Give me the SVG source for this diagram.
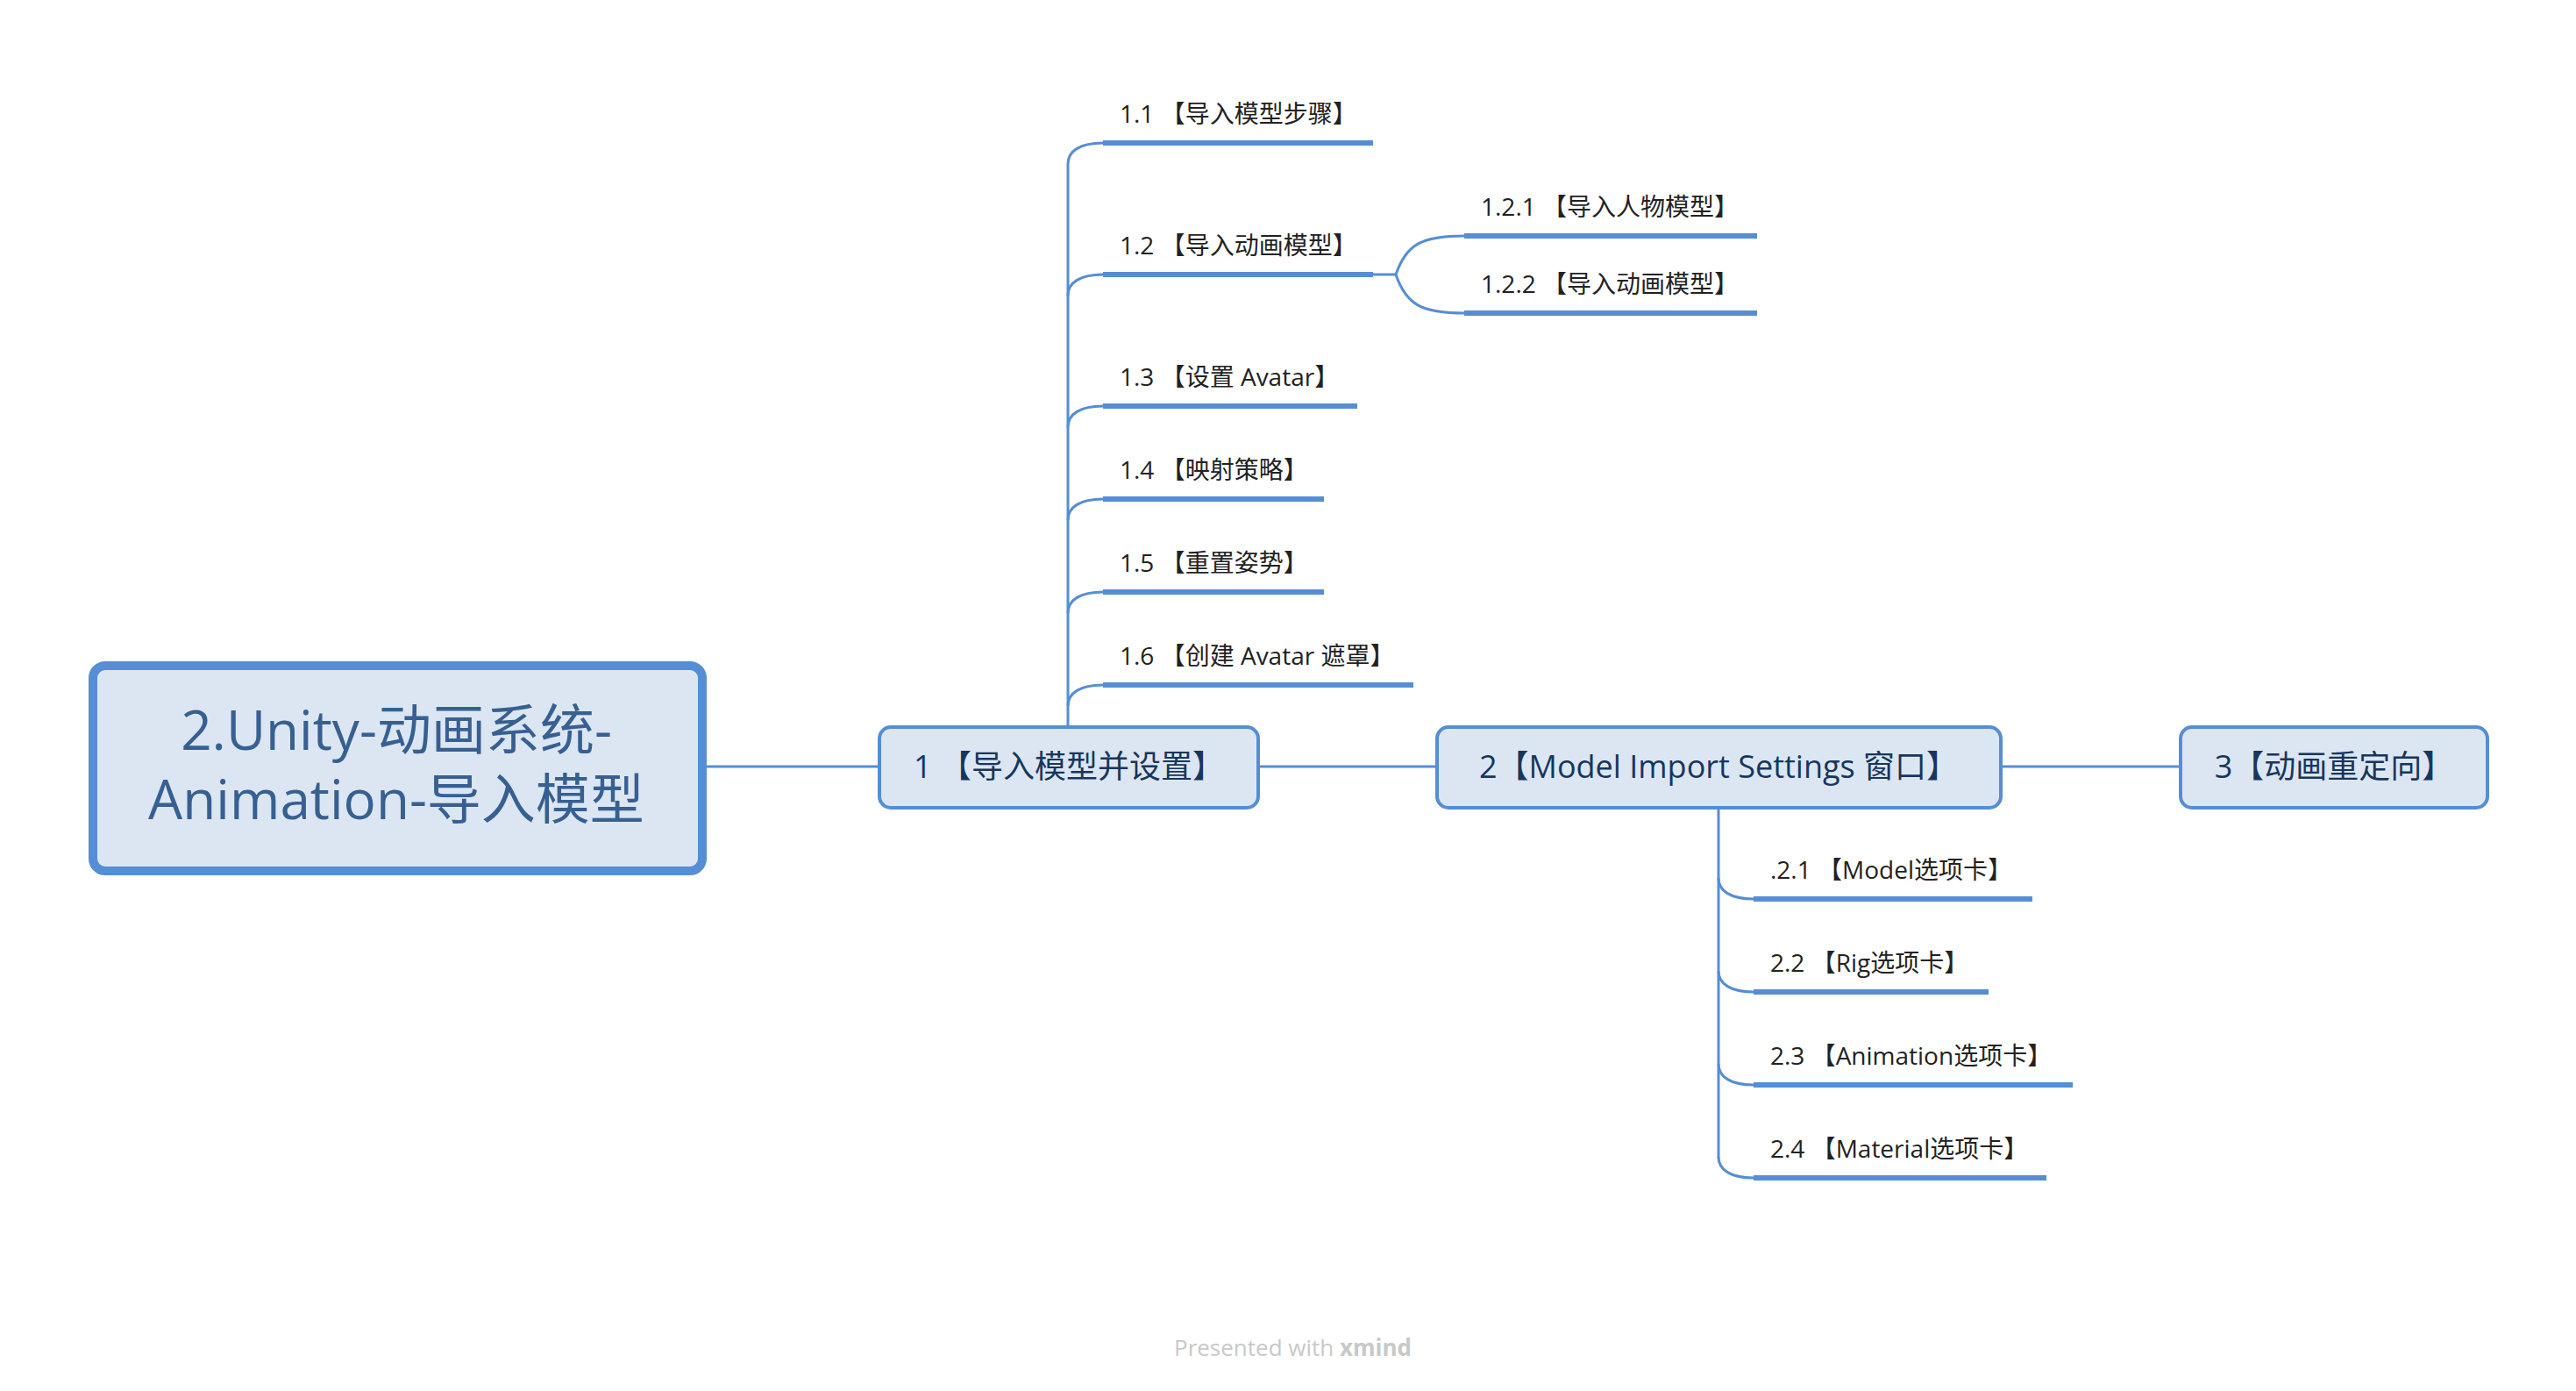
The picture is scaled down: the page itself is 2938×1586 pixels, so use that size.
<svg xmlns="http://www.w3.org/2000/svg" width="2938" height="1586" viewBox="0 0 2938 1586">
<style>
.box{fill:#DCE6F2;stroke:#558ED5;}
.root{stroke-width:10;}
.main{stroke-width:4;}
.conn{fill:none;stroke:#558ED5;stroke-width:3;}
.ul{fill:none;stroke:#558ED5;stroke-width:6;}
text{font-family:"Open Sans","Noto Sans CJK SC",sans-serif;}
.rt{font-size:62px;fill:#376092;text-anchor:middle;}
.mt{font-size:36px;fill:#17365D;text-anchor:middle;}
.st{font-size:28px;fill:#222222;}
.ft{font-size:26px;fill:#C8C8C8;}
</style>
<rect width="2938" height="1586" fill="#FFFFFF"/>
<g id="connectors">
<path class="conn" d="M806 874 H1003"/>
<path class="conn" d="M1435 874 H1639"/>
<path class="conn" d="M2282 874 H2487"/>
<path class="conn" d="M1218 829 V187"/>
<path class="conn" d="M1218 187 C1218 172 1232 163 1258 163"/>
<path class="conn" d="M1218 337 C1218 322 1232 313 1258 313"/>
<path class="conn" d="M1218 487 C1218 472 1232 463 1258 463"/>
<path class="conn" d="M1218 593 C1218 578 1232 569 1258 569"/>
<path class="conn" d="M1218 699 C1218 684 1232 675 1258 675"/>
<path class="conn" d="M1218 805 C1218 790 1232 781 1258 781"/>
<path class="conn" d="M1566 313 H1592"/>
<path class="conn" d="M1592 313 C1604 278 1622 269 1670 269"/>
<path class="conn" d="M1592 313 C1604 348 1622 357 1670 357"/>
<path class="conn" d="M1960 921 V1321"/>
<path class="conn" d="M1960 1001 C1960 1016 1974 1025 2000 1025"/>
<path class="conn" d="M1960 1107 C1960 1122 1974 1131 2000 1131"/>
<path class="conn" d="M1960 1213 C1960 1228 1974 1237 2000 1237"/>
<path class="conn" d="M1960 1319 C1960 1334 1974 1343 2000 1343"/>
</g>
<g id="root">
<rect class="box root" x="106" y="759" width="695" height="234" rx="14"/>
<text class="rt" x="452" y="855">2.Unity-动画系统-</text>
<text class="rt" x="452" y="934">Animation-导入模型</text>
</g>
<g id="node1">
<rect class="box main" x="1003" y="829" width="432" height="92" rx="13"/>
<text class="mt" x="1219" y="887">1 【导入模型并设置】</text>
</g>
<g id="node2">
<rect class="box main" x="1639" y="829" width="643" height="92" rx="13"/>
<text class="mt" x="1960" y="887">2【Model Import Settings 窗口】</text>
</g>
<g id="node3">
<rect class="box main" x="2487" y="829" width="350" height="92" rx="13"/>
<text class="mt" x="2662" y="887">3【动画重定向】</text>
</g>
<g id="n1-1">
<path class="ul" d="M1258 163 H1566"/>
<text class="st" x="1277" y="140">1.1 【导入模型步骤】</text>
</g>
<g id="n1-2">
<path class="ul" d="M1258 313 H1566"/>
<text class="st" x="1277" y="290">1.2 【导入动画模型】</text>
</g>
<g id="n1-2-1">
<path class="ul" d="M1670 269 H2004"/>
<text class="st" x="1689" y="246">1.2.1 【导入人物模型】</text>
</g>
<g id="n1-2-2">
<path class="ul" d="M1670 357 H2004"/>
<text class="st" x="1689" y="334">1.2.2 【导入动画模型】</text>
</g>
<g id="n1-3">
<path class="ul" d="M1258 463 H1548"/>
<text class="st" x="1277" y="440">1.3 【设置 Avatar】</text>
</g>
<g id="n1-4">
<path class="ul" d="M1258 569 H1510"/>
<text class="st" x="1277" y="546">1.4 【映射策略】</text>
</g>
<g id="n1-5">
<path class="ul" d="M1258 675 H1510"/>
<text class="st" x="1277" y="652">1.5 【重置姿势】</text>
</g>
<g id="n1-6">
<path class="ul" d="M1258 781 H1612"/>
<text class="st" x="1277" y="758">1.6 【创建 Avatar 遮罩】</text>
</g>
<g id="n2-1">
<path class="ul" d="M2000 1025 H2318"/>
<text class="st" x="2019" y="1002">.2.1 【Model选项卡】</text>
</g>
<g id="n2-2">
<path class="ul" d="M2000 1131 H2268"/>
<text class="st" x="2019" y="1108">2.2 【Rig选项卡】</text>
</g>
<g id="n2-3">
<path class="ul" d="M2000 1237 H2364"/>
<text class="st" x="2019" y="1214">2.3 【Animation选项卡】</text>
</g>
<g id="n2-4">
<path class="ul" d="M2000 1343 H2334"/>
<text class="st" x="2019" y="1320">2.4 【Material选项卡】</text>
</g>
<g id="footer">
<text class="ft" x="1339" y="1546">Presented with <tspan font-weight="bold">xmind</tspan></text>
</g>
</svg>
